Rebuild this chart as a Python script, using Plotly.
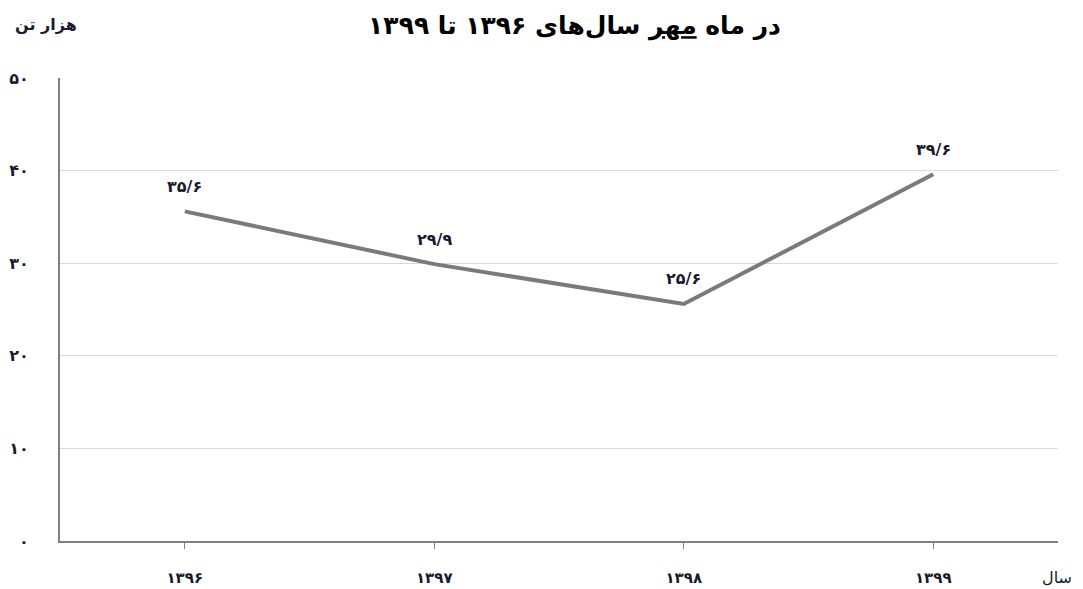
import plotly.graph_objects as go

years = ["۱۳۹۶", "۱۳۹۷", "۱۳۹۸", "۱۳۹۹"]
values = [35.6, 29.9, 25.6, 39.6]
value_labels = ["۳۵/۶", "۲۹/۹", "۲۵/۶", "۳۹/۶"]
y_ticks = [0, 10, 20, 30, 40, 50]
y_tick_labels = ["۰", "۱۰", "۲۰", "۳۰", "۴۰", "۵۰"]
title_text = "در ماه <u>مهر</u> سال‌های ۱۳۹۶ تا ۱۳۹۹"
y_title = "هزار تن"
x_title = "سال"

FONT = "DejaVu Sans"
TXT = "#1a1a2e"

fig = go.Figure()
fig.add_trace(go.Scatter(
    x=years, y=values, mode="lines",
    line=dict(color="#7a7a7a", width=4),
    hoverinfo="skip", showlegend=False,
))

for x, y, t in zip(years, values, value_labels):
    fig.add_annotation(x=x, y=y, text="<b>" + t + "</b>", showarrow=False, yshift=25,
                       font=dict(family=FONT, size=16, color=TXT))

fig.add_annotation(xref="paper", yref="paper", x=-0.047, y=1.091, xanchor="left",
                   yanchor="bottom", text="<b>" + y_title + "</b>", showarrow=False,
                   font=dict(family=FONT, size=16, color=TXT))
fig.add_annotation(xref="paper", yref="paper", x=0.999, y=-0.078, xanchor="center",
                   yanchor="middle", text=x_title, showarrow=False,
                   font=dict(family=FONT, size=16, color=TXT))

fig.update_layout(
    width=1075, height=581,
    margin=dict(l=52, r=25, t=70, b=48),
    paper_bgcolor="white", plot_bgcolor="white",
    title=dict(text="<b>" + title_text + "</b>", x=0.527, xanchor="center",
               y=0.985, yanchor="top",
               font=dict(family=FONT, size=25, color="black")),
    xaxis=dict(
        type="category", range=[-0.5, 3.5], automargin=False,
        showgrid=False, showline=True, linecolor="#808080", linewidth=2,
        ticks="outside", ticklen=6, tickcolor="#808080", tickwidth=1,
        ticklabelstandoff=16,
        tickfont=dict(family=FONT, size=15, color=TXT, weight="bold"),
        zeroline=False,
    ),
    yaxis=dict(
        range=[0, 50], tickvals=y_ticks, ticktext=y_tick_labels, automargin=False,
        showgrid=True, gridcolor="#d9d9d9", gridwidth=1,
        showline=True, linecolor="#808080", linewidth=2,
        ticks="", ticklabelstandoff=26,
        tickfont=dict(family=FONT, size=16, color=TXT, weight="bold"),
        zeroline=False,
    ),
)

fig.write_html("out.html")
